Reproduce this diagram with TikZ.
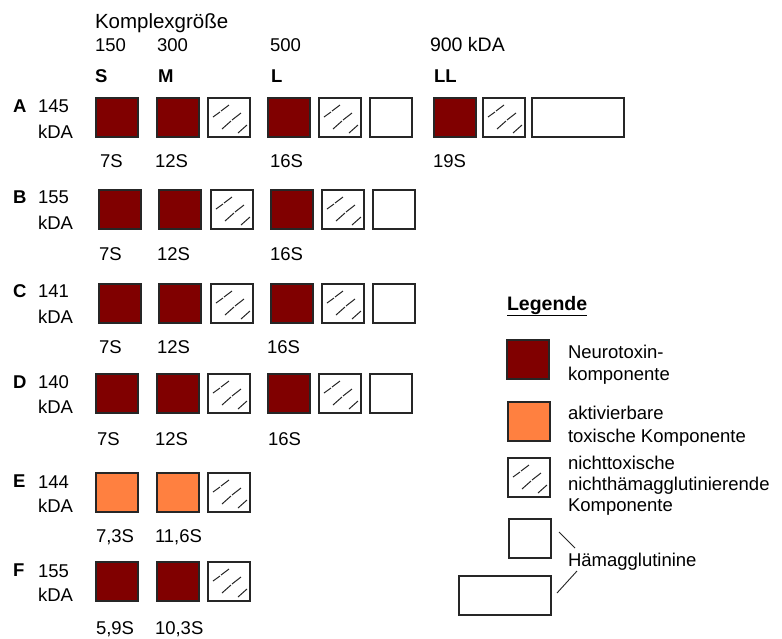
\documentclass[tikz,border=0pt]{standalone}
\usepackage{fontspec}
\setmainfont{Liberation Sans}
\usetikzlibrary{calc}
\definecolor{neuro}{HTML}{800000}
\definecolor{aktiv}{HTML}{FF8040}
\definecolor{rim}{HTML}{262626}
\begin{document}
\begin{tikzpicture}[x=1pt,y=-1pt,
  every node/.style={inner sep=0pt,outer sep=0pt,font=\fontsize{18.5}{22}\selectfont},
  lbl/.style={anchor=base west},
  blbl/.style={anchor=base west,font=\fontsize{18.5}{22}\selectfont\bfseries},
  comp/.style={draw=rim,line width=1.3pt,anchor=north west,minimum width=42pt,minimum height=39pt},
  ntx/.style={comp,fill=neuro},
  akt/.style={comp,fill=aktiv},
  hat/.style={comp,fill=white,path picture={
     \draw[line width=1pt,rim] ([shift={(5,19)}]path picture bounding box.north west) -- ([shift={(12,14)}]path picture bounding box.north west);
     \draw[line width=1pt,rim] ([shift={(13,13)}]path picture bounding box.north west) -- ([shift={(21,7)}]path picture bounding box.north west);
     \draw[line width=1pt,rim] ([shift={(14,31)}]path picture bounding box.north west) -- ([shift={(23,23)}]path picture bounding box.north west);
     \draw[line width=1pt,rim] ([shift={(24,22)}]path picture bounding box.north west) -- ([shift={(33,15)}]path picture bounding box.north west);
     \draw[line width=1pt,rim] ([shift={(30,35)}]path picture bounding box.north west) -- ([shift={(39,27)}]path picture bounding box.north west);
  }},
  hae/.style={comp,fill=white},
  haewide/.style={comp,fill=white,minimum width=92pt},
  conn/.style={draw=rim,line width=0.9pt}
]
\useasboundingbox[fill=white] (0,0) rectangle (782,638);

% header
\node[lbl,font=\fontsize{20.5}{24}\selectfont] (kg) at (95,28) {Komplexgröße};
\node[lbl] (k150) at (95,51) {150};
\node[lbl] (k300) at (157,51) {300};
\node[lbl] (k500) at (270,51) {500};
\node[lbl,font=\fontsize{19.5}{23}\selectfont] (k900) at (430,51) {900 kDA};
\node[blbl] (hS) at (95,82) {S};
\node[blbl] (hM) at (158,82) {M};
\node[blbl] (hL) at (271,82) {L};
\node[blbl] (hLL) at (434,82) {LL};

% row A
\node[blbl] (rA) at (13,112) {A};
\node[lbl] (rAn) at (38,112) {145};
\node[lbl] (rAk) at (38,138) {kDA};
\node[ntx] (a1) at (96,98) {};
\node[ntx] (a2) at (157,98) {};
\node[hat] (a3) at (208,98) {};
\node[ntx] (a4) at (268,98) {};
\node[hat] (a5) at (319,98) {};
\node[hae] (a6) at (370,98) {};
\node[ntx] (a7) at (434,98) {};
\node[hat] (a8) at (483,98) {};
\node[haewide] (a9) at (532,98) {};
\node[lbl] (sa1) at (100,167) {7S};
\node[lbl] (sa2) at (155,167) {12S};
\node[lbl] (sa3) at (270,167) {16S};
\node[lbl] (sa4) at (433,167) {19S};

% row B
\node[blbl] (rB) at (13,203) {B};
\node[lbl] (rBn) at (38,203) {155};
\node[lbl] (rBk) at (38,229) {kDA};
\node[ntx] (b1) at (99,190) {};
\node[ntx] (b2) at (159,190) {};
\node[hat] (b3) at (211,190) {};
\node[ntx] (b4) at (271,190) {};
\node[hat] (b5) at (322,190) {};
\node[hae] (b6) at (373,190) {};
\node[lbl] (sb1) at (99,260) {7S};
\node[lbl] (sb2) at (157,260) {12S};
\node[lbl] (sb3) at (270,260) {16S};

% row C
\node[blbl] (rC) at (13,297) {C};
\node[lbl] (rCn) at (38,297) {141};
\node[lbl] (rCk) at (38,323) {kDA};
\node[ntx] (c1) at (99,284) {};
\node[ntx] (c2) at (159,284) {};
\node[hat] (c3) at (211,284) {};
\node[ntx] (c4) at (271,284) {};
\node[hat] (c5) at (322,284) {};
\node[hae] (c6) at (373,284) {};
\node[lbl] (sc1) at (99,353) {7S};
\node[lbl] (sc2) at (157,353) {12S};
\node[lbl] (sc3) at (267,353) {16S};

% row D
\node[blbl] (rD) at (13,388) {D};
\node[lbl] (rDn) at (38,388) {140};
\node[lbl] (rDk) at (38,413) {kDA};
\node[ntx] (d1) at (96,374) {};
\node[ntx] (d2) at (157,374) {};
\node[hat] (d3) at (208,374) {};
\node[ntx] (d4) at (268,374) {};
\node[hat] (d5) at (319,374) {};
\node[hae] (d6) at (370,374) {};
\node[lbl] (sd1) at (97,445) {7S};
\node[lbl] (sd2) at (155,445) {12S};
\node[lbl] (sd3) at (268,445) {16S};

% row E
\node[blbl] (rE) at (13,487) {E};
\node[lbl] (rEn) at (38,488) {144};
\node[lbl] (rEk) at (38,512) {kDA};
\node[akt] (e1) at (96,473) {};
\node[akt] (e2) at (157,473) {};
\node[hat] (e3) at (208,473) {};
\node[lbl] (se1) at (96,542) {7,3S};
\node[lbl] (se2) at (155,542) {11,6S};

% row F
\node[blbl] (rF) at (13,576) {F};
\node[lbl] (rFn) at (38,577) {155};
\node[lbl] (rFk) at (38,601) {kDA};
\node[ntx] (f1) at (96,562) {};
\node[ntx] (f2) at (157,562) {};
\node[hat] (f3) at (208,562) {};
\node[lbl] (sf1) at (96,634) {5,9S};
\node[lbl] (sf2) at (155,634) {10,3S};

% legend
\node[blbl,font=\fontsize{19.5}{23}\selectfont\bfseries] (leg) at (507,310) {\underline{Legende}};
\node[ntx] (l1) at (507,340) {};
\node[lbl] (l1a) at (568,358) {Neurotoxin-};
\node[lbl] (l1b) at (568,380) {komponente};
\node[akt] (l2) at (508,402) {};
\node[lbl] (l2a) at (568,419) {aktivierbare};
\node[lbl] (l2b) at (568,442) {toxische Komponente};
\node[hat] (l3) at (508,458) {};
\node[lbl] (l3a) at (568,469) {nichttoxische};
\node[lbl] (l3b) at (568,490) {nichthämagglutinierende};
\node[lbl] (l3c) at (568,511) {Komponente};
\node[hae] (l4) at (509,519) {};
\node[haewide] (l5) at (459,576) {};
\node[lbl] (l4t) at (568,566) {Hämagglutinine};
\coordinate (h1a) at (559,532);
\coordinate (h1b) at (575,548);
\coordinate (h2a) at (577,571);
\coordinate (h2b) at (557,593);
\draw[conn] (h1a) -- (h1b);
\draw[conn] (h2a) -- (h2b);
\end{tikzpicture}
\end{document}
